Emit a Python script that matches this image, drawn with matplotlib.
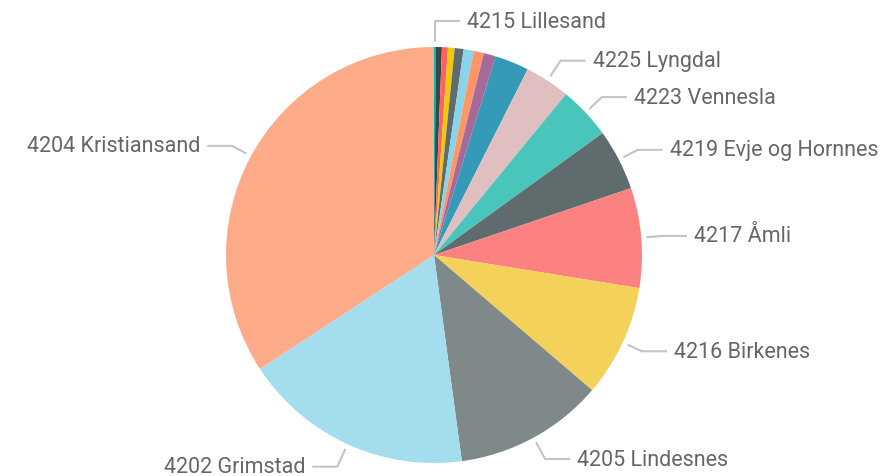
import numpy as np
import matplotlib.pyplot as plt

# Slices in drawing order, clockwise from 12 o'clock (share of total, %)
labels = ["4215 Lillesand", "", "", "", "", "", "", "", "",
          "4225 Lyngdal", "4223 Vennesla", "4219 Evje og Hornnes", "4217 Åmli",
          "4216 Birkenes", "4205 Lindesnes", "4202 Grimstad", "4204 Kristiansand"]
values = [0.15, 0.46, 0.46, 0.52, 0.69, 0.79, 0.78, 0.94, 2.64,
          3.5, 4.1, 4.75, 7.75, 8.7, 11.6, 17.9, 34.2]
colors = ["#01B8AA", "#374649", "#FD625E", "#F2C80F", "#5F6B6D", "#8AD4EB",
          "#FE9666", "#A66999", "#3599B8", "#DFBFBF", "#4AC5BB", "#5F6B6D",
          "#FB8281", "#F4D25A", "#7F898A", "#A4DDEE", "#FDAB89"]

W, H = 887, 477
cx, cy, R = 434, 256, 208

fig = plt.figure(figsize=(W / 100, H / 100), dpi=100)
ax = fig.add_axes([0, 0, 1, 1])

wedges, _ = ax.pie(values, colors=colors, startangle=90, counterclock=False,
                   radius=1, wedgeprops=dict(linewidth=0))
ax.set_aspect("auto")
ax.set_xlim(-cx / R, (W - cx) / R)
ax.set_ylim(-(H - cy) / R, cy / R)
ax.axis("off")

line_col = "#c4c4c4"
text_col = "#666666"
total = sum(values)
cum = 0
for lab, v in zip(labels, values):
    mid = (cum + v / 2) / total * 2 * np.pi
    cum += v
    if not lab:
        continue
    dx, dy = np.sin(mid), np.cos(mid)
    # labels near top/bottom sit a little further out
    r_el = 1.1 + 0.025 * abs(dy) ** 3
    x0, y0 = 1.025 * dx, 1.025 * dy
    x1, y1 = r_el * dx, r_el * dy
    side = 1 if dx >= -0.001 else -1
    x2 = x1 + side * 0.12
    ax.plot([x0, x1, x2], [y0, y1, y1], color=line_col, lw=1.5,
            solid_capstyle="butt")
    ax.text(x2 + side * 0.035, y1, lab, ha="left" if side > 0 else "right",
            va="center", fontsize=15.5, color=text_col, family="Roboto")

fig.savefig("out.png", dpi=100)
